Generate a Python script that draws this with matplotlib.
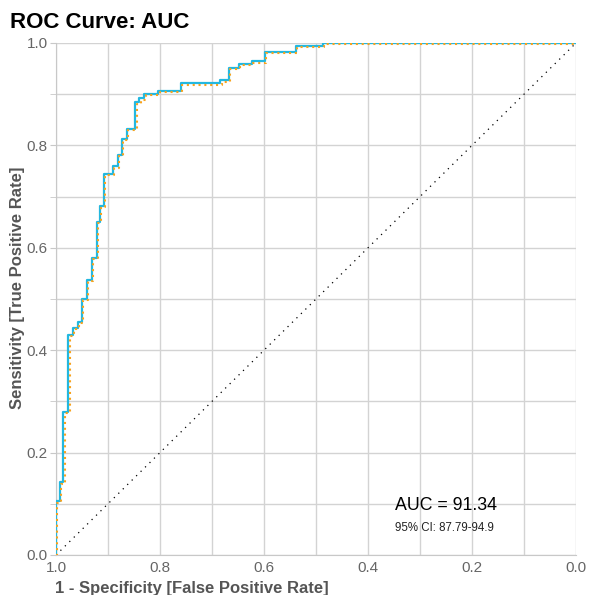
import matplotlib
matplotlib.use("Agg")
import matplotlib.pyplot as plt
import numpy as np

plt.rcParams['font.family'] = ['Liberation Sans', 'DejaVu Sans']

# ROC step vertices: false positive rate (1 - specificity) and sensitivity
fpr = [0.0, 0.0, 0.0077, 0.0077, 0.014, 0.014, 0.024, 0.024, 0.032, 0.032,
       0.0415, 0.0415, 0.05, 0.05, 0.0596, 0.0596, 0.0685, 0.0685, 0.078, 0.078,
       0.0846, 0.0846, 0.092, 0.092, 0.109, 0.109, 0.1185, 0.1185, 0.127, 0.127,
       0.136, 0.136, 0.1525, 0.1525, 0.16, 0.16, 0.17, 0.17, 0.197, 0.197,
       0.24, 0.24, 0.316, 0.316, 0.333, 0.333, 0.351, 0.351, 0.376, 0.376,
       0.401, 0.401, 0.4615, 0.4615, 0.513, 0.513, 1.0]
tpr = [0.0, 0.105, 0.105, 0.142, 0.142, 0.280, 0.280, 0.430, 0.430, 0.443,
       0.443, 0.456, 0.456, 0.500, 0.500, 0.538, 0.538, 0.581, 0.581, 0.650,
       0.650, 0.682, 0.682, 0.745, 0.745, 0.759, 0.759, 0.782, 0.782, 0.813,
       0.813, 0.832, 0.832, 0.884, 0.884, 0.892, 0.892, 0.900, 0.900, 0.907,
       0.907, 0.921, 0.921, 0.927, 0.927, 0.951, 0.951, 0.959, 0.959, 0.964,
       0.964, 0.982, 0.982, 0.995, 0.995, 1.0, 1.0]

auc_text = "AUC = 91.34"
ci_text = "95% CI: 87.79-94.9"
title = "ROC Curve: AUC"
xlabel = "1 - Specificity [False Positive Rate]"
ylabel = "Sensitivity [True Positive Rate]"

spec = 1 - np.array(fpr)
sens = np.array(tpr)

fig = plt.figure(figsize=(5.9, 5.95), dpi=100)
ax = fig.add_axes([56/590, 1 - 555/595, 520/590, 512/595])

ax.set_xlim(1, 0)
ax.set_ylim(0, 1)
ax.set_xticks(np.arange(0, 1.01, 0.2))
ax.set_yticks(np.arange(0, 1.01, 0.2))
ax.set_xticks(np.arange(0.1, 1.0, 0.2), minor=True)
ax.set_yticks(np.arange(0.1, 1.0, 0.2), minor=True)
ax.xaxis.set_major_formatter(matplotlib.ticker.FormatStrFormatter('%.1f'))
ax.yaxis.set_major_formatter(matplotlib.ticker.FormatStrFormatter('%.1f'))
ax.grid(True, which='both', color='#d3d3d3', linewidth=1)
ax.set_axisbelow(True)
for s in ['top', 'right']:
    ax.spines[s].set_visible(False)
for s in ['left', 'bottom']:
    ax.spines[s].set_color('#c8c8c8')
ax.tick_params(which='both', colors='#666666', labelsize=11, pad=2)
ax.tick_params(axis='y', which='both', color='#c8c8c8', length=4)
ax.tick_params(axis='x', which='both', length=0, pad=4)

ax.plot([1, 0], [0, 1], color='black', linestyle=(0, (1, 4)), linewidth=0.9)
ax.plot(spec, sens, color='#22b8e0', linewidth=1.6, zorder=3)
ax.plot(spec - 0.0025, sens - 0.0025, color='#f7a21c', linewidth=1.5,
        linestyle=(0, (1, 1.8)), zorder=4)

ax.text(0.348, 0.097, auc_text, fontsize=12.8, color='black', ha='left', va='center')
ax.text(0.348, 0.053, ci_text, fontsize=8.3, color='#222222', ha='left', va='center')

fig.text(10/590, 1 - 22/595, title, fontsize=16, fontweight='bold', ha='left', va='center')
fig.text(55/590, 1 - 588/595, xlabel, fontsize=12, fontweight='bold', color='#555555',
         ha='left', va='center')
fig.text(18/590, 1 - 288/595, ylabel, fontsize=12, fontweight='bold', color='#555555',
         ha='center', va='center', rotation=90)

fig.savefig('out.png', dpi=100)
